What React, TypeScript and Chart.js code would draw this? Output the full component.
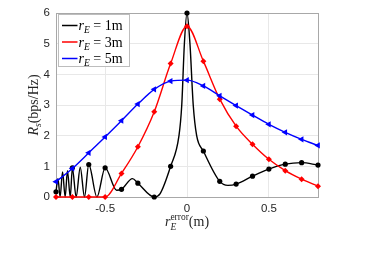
import { useEffect, useRef } from "react";
import { Chart, registerables } from "chart.js";
Chart.register(...registerables);

const X_TICKS = [-0.5, 0, 0.5];
const Y_TICKS = [0, 1, 2, 3, 4, 5, 6];
const MARK_X = [-0.8, -0.7, -0.6, -0.5, -0.4, -0.3, -0.2, -0.1, 0, 0.1, 0.2, 0.3, 0.4, 0.5, 0.6, 0.7, 0.8];
const BLACK_MARK_Y = [0.17, 0.95, 1.06, 0.95, 0.25, 0.45, 0.0, 1.0, 6.0, 1.5, 0.51, 0.42, 0.68, 0.91, 1.07, 1.12, 1.04];
const RED_Y = [0, 0, 0, 0, 0.77, 1.64, 2.78, 4.35, 5.57, 4.43, 3.19, 2.31, 1.72, 1.23, 0.86, 0.58, 0.35];
const BLUE_Y = [0.5, 0.93, 1.44, 1.96, 2.49, 3.03, 3.51, 3.78, 3.81, 3.62, 3.3, 2.98, 2.67, 2.37, 2.11, 1.88, 1.68];
const BLACK_CURVE_X = [-0.8, -0.788, -0.775, -0.76, -0.744, -0.73, -0.713, -0.7, -0.677, -0.652, -0.626, -0.6, -0.55, -0.5, -0.43, -0.4, -0.333, -0.3, -0.2, -0.165, -0.1, -0.049, -0.032, -0.016, 0, 0.018, 0.038, 0.059, 0.1, 0.2, 0.25, 0.3, 0.4, 0.5, 0.6, 0.7, 0.8];
const BLACK_CURVE_Y = [0.17, 0.6, 0, 0.82, 0, 0.86, 0, 0.95, 0, 0.97, 0, 1.06, 0, 0.95, 0.22, 0.25, 0.6, 0.45, 0, 0.1, 1.0, 2, 3, 5, 6, 5, 3, 2, 1.5, 0.51, 0.38, 0.42, 0.68, 0.91, 1.07, 1.12, 1.04];
const LEGEND_LABELS = ["1m", "3m", "5m"];
const COLORS = ["#000000", "#ff0000", "#0000ff"];

const SERIF = "'Liberation Serif', 'DejaVu Serif', serif";

type Run = { t: string; it?: boolean; sz: number; dy?: number; stackNext?: boolean };

function runsWidth(ctx: CanvasRenderingContext2D, runs: Run[]) {
  let w = 0;
  let pending = 0;
  for (const r of runs) {
    ctx.font = `${r.it ? "italic " : ""}${r.sz}px ${SERIF}`;
    const m = ctx.measureText(r.t).width;
    if (r.stackNext) {
      pending = m;
    } else {
      w += Math.max(m, pending);
      pending = 0;
    }
  }
  return w;
}

function drawRuns(ctx: CanvasRenderingContext2D, runs: Run[], x: number, y: number) {
  let cx = x;
  let pending = 0;
  for (const r of runs) {
    ctx.font = `${r.it ? "italic " : ""}${r.sz}px ${SERIF}`;
    ctx.fillText(r.t, cx, y + (r.dy || 0));
    const m = ctx.measureText(r.t).width;
    if (r.stackNext) {
      pending = m;
    } else {
      cx += Math.max(m, pending);
      pending = 0;
    }
  }
}

const annotPlugin = {
  id: "annot",
  afterDraw(chart: any) {
    const ctx: CanvasRenderingContext2D = chart.ctx;
    const area = chart.chartArea;
    ctx.save();
    ctx.fillStyle = "#262626";
    ctx.textBaseline = "alphabetic";
    ctx.textAlign = "left";
    // x title
    const xr: Run[] = [
      { t: "r", it: true, sz: 14 },
      { t: "error", sz: 9.5, dy: -6, stackNext: true },
      { t: "E", it: true, sz: 9.5, dy: 4 },
      { t: "(m)", sz: 14 },
    ];
    const xw = runsWidth(ctx, xr);
    drawRuns(ctx, xr, (area.left + area.right) / 2 - xw / 2, 226, );
    // y title
    const yr: Run[] = [
      { t: "R", it: true, sz: 14 },
      { t: "s", it: true, sz: 9.5, dy: 3 },
      { t: "(bps/Hz)", sz: 14 },
    ];
    const yw = runsWidth(ctx, yr);
    ctx.save();
    ctx.translate(38, (area.top + area.bottom) / 2);
    ctx.rotate(-Math.PI / 2);
    drawRuns(ctx, yr, -yw / 2, 0);
    ctx.restore();
    // legend
    const bx = area.left + 2.5, by = area.top + 1.5, bw = 71, bh = 52;
    ctx.fillStyle = "#ffffff";
    ctx.fillRect(bx, by, bw, bh);
    ctx.strokeStyle = "#bdbdbd";
    ctx.lineWidth = 1;
    ctx.strokeRect(bx, by, bw, bh);
    for (let i = 0; i < 3; i++) {
      const ly = by + 11 + i * 16.5;
      ctx.strokeStyle = COLORS[i];
      ctx.lineWidth = 1.5;
      ctx.beginPath();
      ctx.moveTo(bx + 3.5, ly);
      ctx.lineTo(bx + 19, ly);
      ctx.stroke();
      ctx.fillStyle = "#000000";
      drawRuns(ctx, [
        { t: "r", it: true, sz: 14 },
        { t: "E", it: true, sz: 9.5, dy: 3 },
        { t: " = " + LEGEND_LABELS[i], sz: 14 },
      ], bx + 20, ly + 4.5);
    }
    ctx.restore();
  },
};

export default function App() {
  const ref = useRef<HTMLCanvasElement>(null);
  useEffect(() => {
    document.body.style.margin = "0";
    const blackCurve = BLACK_CURVE_X.map((x, i) => ({ x, y: BLACK_CURVE_Y[i] }));
    const blackMarks = MARK_X.map((x, i) => ({ x, y: BLACK_MARK_Y[i] }));
    const red = MARK_X.map((x, i) => ({ x, y: RED_Y[i] }));
    const blue = MARK_X.map((x, i) => ({ x, y: BLUE_Y[i] }));
    const tickFont = { family: "'Liberation Sans', Arial, sans-serif", size: 11.5 };
    const chart = new Chart(ref.current!, {
      type: "line",
      data: {
        datasets: [
          {
            data: blackCurve, borderColor: "#000", borderWidth: 1.4, pointRadius: 0,
            cubicInterpolationMode: "monotone", clip: false, order: 4,
          } as any,
          {
            data: blackMarks, showLine: false, pointRadius: 2.6, pointBackgroundColor: "#000",
            pointBorderColor: "#000", pointBorderWidth: 0, clip: false, order: 3,
          },
          {
            data: red, borderColor: "#ff0000", borderWidth: 1.4, cubicInterpolationMode: "monotone",
            pointStyle: "rectRot", pointRadius: 3, pointBackgroundColor: "#ff0000",
            pointBorderColor: "#ff0000", pointBorderWidth: 0, clip: false, order: 2,
          } as any,
          {
            data: blue, borderColor: "#0000ff", borderWidth: 1.4, cubicInterpolationMode: "monotone",
            pointStyle: "triangle", pointRotation: -90, pointRadius: 3.6, pointBackgroundColor: "#0000ff",
            pointBorderColor: "#0000ff", pointBorderWidth: 0, clip: false, order: 1,
          } as any,
        ],
      },
      options: {
        animation: false,
        responsive: false,
        maintainAspectRatio: false,
        layout: { padding: { left: 0, top: 13, right: 56, bottom: 0 } },
        plugins: { legend: { display: false }, tooltip: { enabled: false } },
        scales: {
          x: {
            type: "linear", min: -0.8, max: 0.8,
            afterBuildTicks: (s: any) => { s.ticks = X_TICKS.map((v) => ({ value: v })); },
            afterFit: (s: any) => { s.height = 65; },
            grid: { color: "#e8e8e8", drawTicks: false },
            border: { color: "#a8a8a8" },
            ticks: {
              color: "#262626", font: tickFont, padding: 5, maxRotation: 0,
              callback: (v: any) => String(v),
            },
          },
          y: {
            type: "linear", min: 0, max: 6,
            afterBuildTicks: (s: any) => { s.ticks = Y_TICKS.map((v) => ({ value: v })); },
            afterFit: (s: any) => { s.width = 56; },
            grid: { color: "#e8e8e8", drawTicks: false },
            border: { color: "#a8a8a8" },
            ticks: { color: "#262626", font: tickFont, padding: 6 },
          },
          x2: {
            type: "linear", position: "top", min: -0.8, max: 0.8,
            afterBuildTicks: (s: any) => { s.ticks = []; },
            afterFit: (s: any) => { s.height = 0; },
            grid: { display: false }, border: { color: "#a8a8a8" }, ticks: { display: false },
          },
          y2: {
            type: "linear", position: "right", min: 0, max: 6,
            afterBuildTicks: (s: any) => { s.ticks = []; },
            afterFit: (s: any) => { s.width = 0; },
            grid: { display: false }, border: { color: "#a8a8a8" }, ticks: { display: false },
          },
        },
      } as any,
      plugins: [annotPlugin],
    });
    return () => chart.destroy();
  }, []);
  return (
    <div style={{ width: 374, height: 262 }}>
      <canvas ref={ref} width={374} height={262} style={{ width: 374, height: 262 }} />
    </div>
  );
}
